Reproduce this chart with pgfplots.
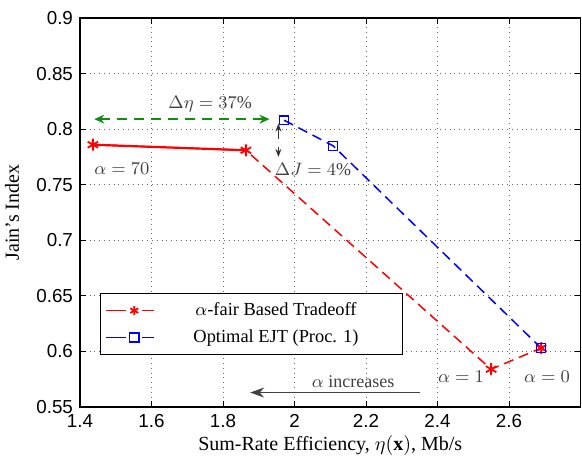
\documentclass[border=0pt]{standalone}
\usepackage{fontspec}
\setmainfont{Liberation Serif}
\setsansfont{Liberation Sans}
\usepackage{pgfplots}
\pgfplotsset{compat=1.18}
\usetikzlibrary{arrows.meta}
\definecolor{annot}{RGB}{64,64,64}
\definecolor{dgreen}{RGB}{20,140,20}
\begin{document}
\begin{tikzpicture}
\begin{axis}[
  scale only axis, width=250.25pt, height=194.5pt,
  xmin=1.4, xmax=2.8, ymin=0.55, ymax=0.9,
  xtick={1.4,1.6,1.8,2,2.2,2.4,2.6},
  ytick={0.55,0.6,0.65,0.7,0.75,0.8,0.85,0.9},
  grid=major, grid style={dotted, black!60, line width=0.5pt},
  axis line style={line width=0.6pt},
  tick style={black, line width=0.5pt},
  major tick length=3pt,
  tick label style={font=\sffamily\fontsize{9.4}{11}\selectfont},
  /pgf/number format/assume math mode=true,
  yticklabel style={/pgf/number format/fixed, /pgf/number format/precision=2},
  xticklabel style={/pgf/number format/fixed, /pgf/number format/precision=1},
  xlabel={Sum-Rate Efficiency, $\eta(\mathbf{x})$, Mb/s},
  ylabel={Jain's Index},
  label style={font=\fontsize{10}{12}\selectfont},
  xlabel style={at={(axis description cs:0.5,-0.1)}, anchor=center},
  ylabel style={at={(axis description cs:-0.136,0.5)}, anchor=center},
  legend style={at={(0.04,0.134)}, anchor=south west, draw=black, line width=0.5pt,
    font=\fontsize{9.2}{11}\selectfont, row sep=1.5pt, inner sep=2.5pt},
  legend cell align=left,
  legend image code/.code={
    \path (0pt,0pt) -- (4pt,0pt);
    \draw[dash pattern=on 6pt off 8pt, mark repeat=2, mark phase=2, mark size=2.3pt]
      plot coordinates {(4pt,0pt) (14pt,0pt) (24pt,0pt)};},
]
\addplot[red, line width=0.75pt, dash pattern=on 5pt off 3pt, mark=asterisk, mark size=3pt, mark options={solid, line width=0.9pt}]
  coordinates {(1.436,0.786) (1.864,0.781) (2.550,0.584) (2.690,0.603)};
\addlegendentry{\makebox[117pt][c]{$\alpha$-fair Based Tradeoff}}
\addplot[blue, line width=0.75pt, dash pattern=on 5pt off 3pt, mark=square, mark size=2.2pt, mark options={solid, line width=0.7pt}]
  coordinates {(1.971,0.808) (2.108,0.785) (2.690,0.603)};
\addlegendentry{\makebox[117pt][c]{Optimal EJT (Proc. 1)}}
\addplot[red, line width=1.1pt, forget plot] coordinates {(1.436,0.786) (1.864,0.781)};
\addplot[red, only marks, mark=asterisk, mark size=2pt, forget plot, line width=0.9pt] coordinates {(2.690,0.603)};

% annotations
\draw[dgreen, line width=0.8pt, dash pattern=on 5pt off 3.5pt, {Stealth[length=5pt,width=4.5pt]}-{Stealth[length=5pt,width=4.5pt]}]
  (axis cs:1.44,0.809) -- (axis cs:1.93,0.809);
\node[annot, font=\fontsize{9}{11}\selectfont] at (axis cs:1.764,0.8225) {$\Delta\eta=37\%$};
\draw[black!80, line width=0.5pt, dash pattern=on 5pt off 4pt, {Stealth[length=4pt,width=3pt]}-{Stealth[length=4pt,width=3pt]}]
  (axis cs:1.955,0.805) -- (axis cs:1.955,0.775);
\node[annot, font=\fontsize{9}{11}\selectfont] at (axis cs:2.052,0.764) {$\Delta J=4\%$};
\node[annot, font=\fontsize{9}{11}\selectfont] at (axis cs:1.517,0.764) {$\alpha=70$};
\node[annot, font=\fontsize{9}{11}\selectfont] at (axis cs:2.466,0.577) {$\alpha=1$};
\node[annot, font=\fontsize{9}{11}\selectfont] at (axis cs:2.706,0.577) {$\alpha=0$};
\draw[black!75, line width=0.6pt, -{Stealth[length=7pt,width=5pt]}] (axis cs:2.351,0.563) -- (axis cs:1.876,0.563);
\node[annot, font=\fontsize{9}{11}\selectfont] at (axis cs:2.164,0.5727) {$\alpha$ increases};
\end{axis}
\pgfresetboundingbox
\path[use as bounding box] ([xshift=-40pt,yshift=-24pt]current axis.south west) rectangle ([xshift=0.75pt,yshift=9pt]current axis.north east);
\end{tikzpicture}
\end{document}
